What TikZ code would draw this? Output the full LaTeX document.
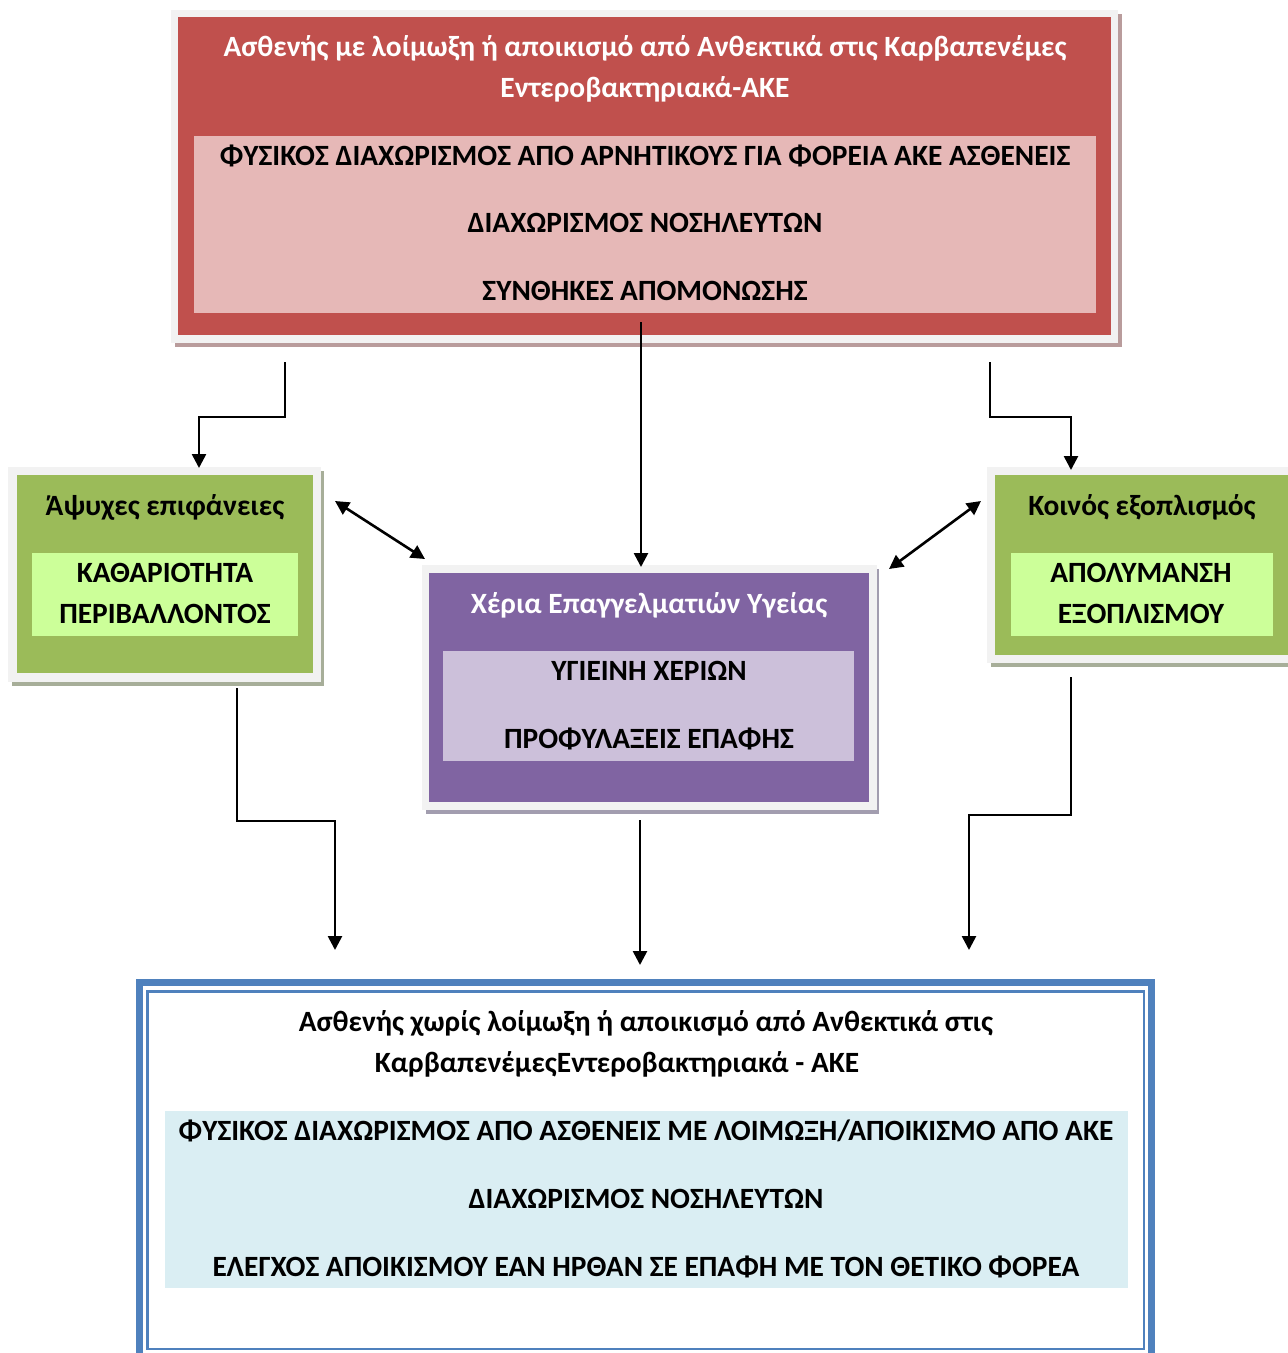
\documentclass[tikz,border=0pt]{standalone}
\usepackage{fontspec}
\setmainfont{Carlito}
\usetikzlibrary{arrows.meta}
\definecolor{framegray}{HTML}{F2F2F2}
\definecolor{redfill}{HTML}{C0504D}
\definecolor{pinkfill}{HTML}{E6B8B7}
\definecolor{redshadow}{HTML}{B99C9C}
\definecolor{greenfill}{HTML}{9BBB59}
\definecolor{lightgreen}{HTML}{CCFF99}
\definecolor{greenshadow}{HTML}{A7AE99}
\definecolor{purplefill}{HTML}{8064A2}
\definecolor{lavender}{HTML}{CCC0DA}
\definecolor{purpleshadow}{HTML}{A29DAF}
\definecolor{bluefill}{HTML}{4F81BD}
\definecolor{lightblue}{HTML}{DAEEF3}
\begin{document}
\begin{tikzpicture}[x=1pt,y=-1pt,
  every node/.style={inner sep=0pt,outer sep=0pt},
  panel/.style={anchor=north west,draw=none},
  lbl/.style={font=\fontsize{29.4}{34}\selectfont\bfseries,anchor=base},
  wlbl/.style={lbl,text=white},
  conn/.style={line width=2.6pt,-{Triangle[length=14pt,width=14pt]}},
  dconn/.style={line width=2.6pt,{Triangle[length=14pt,width=14pt]}-{Triangle[length=14pt,width=14pt]}}]
\useasboundingbox[fill=white] (0,0) rectangle (1288,1353);

% ---------- top red box ----------
\fill[redshadow] (175,14) rectangle (1122,347);
\fill[framegray] (171,10) rectangle (1118,343);
\node[panel,fill=redfill,minimum width=933pt,minimum height=318pt] (top) at (178,17) {};
\node[panel,fill=pinkfill,minimum width=902pt,minimum height=177pt] (topin) at (194,136) {};
\node[wlbl] (t1) at (645,56) {Ασθενής με λοίμωξη ή αποικισμό από Ανθεκτικά στις Καρβαπενέμες};
\node[wlbl] (t2) at (645,97) {Εντεροβακτηριακά-ΑΚΕ};
\node[lbl] (t3) at (645,165) {ΦΥΣΙΚΟΣ ΔΙΑΧΩΡΙΣΜΟΣ ΑΠΟ ΑΡΝΗΤΙΚΟΥΣ ΓΙΑ ΦΟΡΕΙΑ ΑΚΕ ΑΣΘΕΝΕΙΣ};
\node[lbl] (t4) at (645,232) {ΔΙΑΧΩΡΙΣΜΟΣ ΝΟΣΗΛΕΥΤΩΝ};
\node[lbl] (t5) at (645,300) {ΣΥΝΘΗΚΕΣ ΑΠΟΜΟΝΩΣΗΣ};

% ---------- left green box ----------
\fill[greenshadow] (12,471) rectangle (324,686);
\fill[framegray] (8,467) rectangle (321,682);
\node[panel,fill=greenfill,minimum width=296pt,minimum height=198pt] (left) at (17,475) {};
\node[panel,fill=lightgreen,minimum width=266pt,minimum height=83pt] (leftin) at (32,553) {};
\node[lbl] (l1) at (165,515) {Άψυχες επιφάνειες};
\node[lbl] (l2) at (165,582) {ΚΑΘΑΡΙΟΤΗΤΑ};
\node[lbl] (l3) at (165,623) {ΠΕΡΙΒΑΛΛΟΝΤΟΣ};

% ---------- centre purple box ----------
\fill[purpleshadow] (426,569) rectangle (879,814);
\fill[framegray] (422,565) rectangle (877,810);
\node[panel,fill=purplefill,minimum width=440pt,minimum height=229pt] (mid) at (429,573) {};
\node[panel,fill=lavender,minimum width=411pt,minimum height=110pt] (midin) at (443,651) {};
\node[wlbl] (m1) at (649,613) {Χέρια Επαγγελματιών Υγείας};
\node[lbl] (m2) at (649,680) {ΥΓΙΕΙΝΗ ΧΕΡΙΩΝ};
\node[lbl] (m3) at (649,748) {ΠΡΟΦΥΛΑΞΕΙΣ ΕΠΑΦΗΣ};

% ---------- right green box ----------
\fill[greenshadow] (991,471) rectangle (1288,667);
\fill[framegray] (987,467) rectangle (1288,663);
\node[panel,fill=greenfill,minimum width=293pt,minimum height=180pt] (right) at (995,475) {};
\node[panel,fill=lightgreen,minimum width=262pt,minimum height=83pt] (rightin) at (1011,553) {};
\node[lbl] (r1) at (1142,515) {Κοινός εξοπλισμός};
\node[lbl] (r2) at (1141,582) {ΑΠΟΛΥΜΑΝΣΗ};
\node[lbl] (r3) at (1141,623) {ΕΞΟΠΛΙΣΜΟΥ};

% ---------- bottom blue box ----------
\draw[bluefill,line width=7pt] (139.5,982.5) rectangle (1151.5,1360);
\draw[bluefill,line width=2.5pt] (147.5,991.5) rectangle (1144,1349);
\node[panel,fill=lightblue,minimum width=963pt,minimum height=177pt] (botin) at (165,1111) {};
\node[lbl] (b1) at (646,1031) {Ασθενής χωρίς λοίμωξη ή αποικισμό από Ανθεκτικά στις};
\node[lbl] (b2) at (617,1072) {ΚαρβαπενέμεςΕντεροβακτηριακά - ΑΚΕ};
\node[lbl] (b3) at (646,1140) {ΦΥΣΙΚΟΣ ΔΙΑΧΩΡΙΣΜΟΣ ΑΠΟ ΑΣΘΕΝΕΙΣ ΜΕ ΛΟΙΜΩΞΗ/ΑΠΟΙΚΙΣΜΟ ΑΠΟ ΑΚΕ};
\node[lbl] (b4) at (646,1208) {ΔΙΑΧΩΡΙΣΜΟΣ ΝΟΣΗΛΕΥΤΩΝ};
\node[lbl] (b5) at (646,1276) {ΕΛΕΓΧΟΣ ΑΠΟΙΚΙΣΜΟΥ ΕΑΝ ΗΡΘΑΝ ΣΕ ΕΠΑΦΗ ΜΕ ΤΟΝ ΘΕΤΙΚΟ ΦΟΡΕΑ};

% ---------- connector end points ----------
\coordinate (a1s) at (285,362);  \coordinate (a1e) at (199,468);
\coordinate (a2s) at (641,322);  \coordinate (a2e) at (641,567);
\coordinate (a3s) at (990,362);  \coordinate (a3e) at (1071,470);
\coordinate (d1s) at (335,501);  \coordinate (d1e) at (425,559);
\coordinate (d2s) at (981,501);  \coordinate (d2e) at (889,569);
\coordinate (a6s) at (237,688);  \coordinate (a6e) at (335,950);
\coordinate (a7s) at (640,820);  \coordinate (a7e) at (640,965);
\coordinate (a8s) at (1071,677); \coordinate (a8e) at (969,950);

\draw[conn] (a1s) -- ++(0,55) -| (a1e);
\draw[conn] (a2s) -- (a2e);
\draw[conn] (a3s) -- ++(0,55) -| (a3e);
\draw[dconn] (d1s) -- (d1e);
\draw[dconn] (d2s) -- (d2e);
\draw[conn] (a6s) -- ++(0,133) -| (a6e);
\draw[conn] (a7s) -- (a7e);
\draw[conn] (a8s) -- ++(0,138) -| (a8e);
\end{tikzpicture}
\end{document}
